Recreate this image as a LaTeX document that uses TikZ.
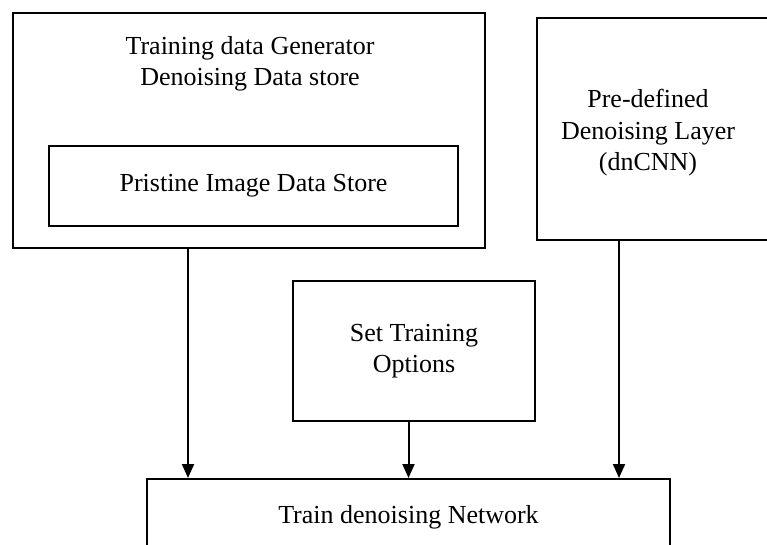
\documentclass[tikz,border=0pt]{standalone}
\usepackage{fontspec}
\setmainfont{Liberation Serif}
\usetikzlibrary{arrows.meta}

\begin{document}
\begin{tikzpicture}[x=1pt,y=-1pt,
        box/.style={draw,line width=2pt,inner sep=0pt},
        txt/.style={align=center,font=\fontsize{26}{31.5}\selectfont},
        arr/.style={line width=2pt,-{Triangle[length=14pt,width=12pt]}}]
        \clip (0,0) rectangle (767,544);
        \fill[white] (0,0) rectangle (767,544);

        % generator box with the pristine store inside it
        \node[box,minimum width=472pt,minimum height=235pt] (gen) at (249,130.5) {};
        \node[txt] (gentext) at (250,64) {Training data Generator\\Denoising Data store};
        \node[box,txt,minimum width=409pt,minimum height=80pt] (pristine) at (253.5,185.5) {Pristine Image Data Store};

        % layer box runs off the right side
        \node[box,minimum width=260pt,minimum height=222pt] (dncnn) at (667,129) {};
        \node[txt] (dncnntext) at (648,133) {Pre-defined\\Denoising Layer\\(dnCNN)};

        \node[box,txt,minimum width=242pt,minimum height=140pt] (opts) at (414,351) {Set Training\\Options};
        \node[box,txt,minimum width=523pt,minimum height=76pt] (train) at (408.5,517) {Train denoising Network};

        \foreach \src/\x in {gen/188,dncnn/619}
        \draw[arr] (\x,0 |- \src.south) -- (\x,0 |- train.north);
        \draw[arr] (opts.south -| train.north) -- (train.north);
    \end{tikzpicture}
\end{document}
